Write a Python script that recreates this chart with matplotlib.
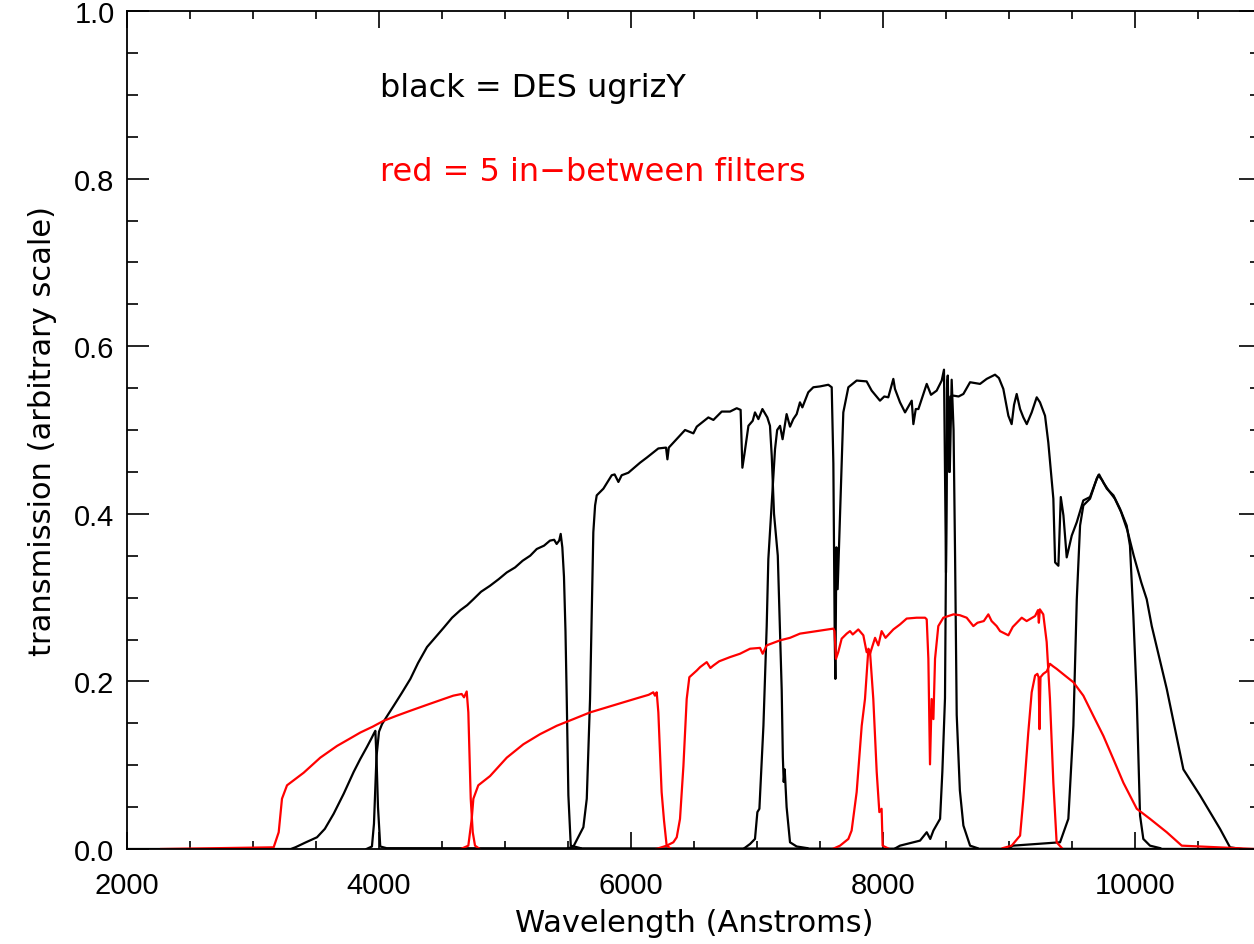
import matplotlib
matplotlib.use("Agg")
import matplotlib.pyplot as plt
from matplotlib.ticker import MultipleLocator, FormatStrFormatter

plt.rcParams['font.family'] = ['Liberation Sans', 'DejaVu Sans']

# DES ugrizY transmission curves (black)
u_wave = [2000, 3300, 3336, 3420, 3508, 3570, 3640, 3720, 3799, 3850, 3905, 3940, 3960, 3971,
          3980, 3992, 4010, 4060, 10950]
u_trans = [0, 0, 0.002, 0.008, 0.014, 0.024, 0.042, 0.066, 0.092, 0.107, 0.122, 0.132, 0.138, 0.141,
           0.11, 0.05, 0.003, 0.001, 0]

g_wave = [3900, 3944, 3960, 3980, 4000, 4024, 4070, 4117, 4180, 4249, 4310, 4381, 4450, 4513, 4580,
          4646, 4700, 4749, 4810, 4880, 4950, 5014, 5080, 5140, 5200, 5252, 5310, 5357, 5390, 5410,
          5430, 5442, 5455, 5468, 5480, 5490, 5503, 5522, 5600]
g_trans = [0, 0.003, 0.03, 0.11, 0.14, 0.149, 0.160, 0.171, 0.186, 0.203, 0.222, 0.241, 0.253, 0.264,
           0.276, 0.285, 0.291, 0.298, 0.307, 0.314, 0.322, 0.330, 0.336, 0.344, 0.350, 0.358, 0.362,
           0.368, 0.369, 0.364, 0.368, 0.376, 0.36, 0.325, 0.26, 0.179, 0.064, 0.004, 0.001]

r_wave = [5500, 5543, 5622, 5649, 5675, 5701, 5715, 5728, 5781, 5847, 5870, 5900, 5926, 5979, 6072,
          6125, 6217, 6278, 6289, 6300, 6429, 6495, 6522, 6614, 6654, 6720, 6786, 6839, 6870, 6884,
          6900, 6932, 6966, 6984, 7011, 7043, 7082, 7103, 7117, 7135, 7165, 7196, 7205, 7212, 7220,
          7235, 7262, 7315, 7400]
r_trans = [0.001, 0.003, 0.026, 0.06, 0.179, 0.378, 0.41, 0.422, 0.43, 0.446, 0.447, 0.438, 0.446,
           0.449, 0.461, 0.467, 0.478, 0.479, 0.465, 0.479, 0.5, 0.496, 0.504, 0.515, 0.512, 0.522,
           0.522, 0.526, 0.524, 0.455, 0.471, 0.505, 0.511, 0.521, 0.513, 0.525, 0.515, 0.505, 0.469,
           0.40, 0.35, 0.19, 0.11, 0.08, 0.095, 0.05, 0.008, 0.003, 0.001]

i_wave = [6900, 6945, 6984, 7003, 7019, 7051, 7077, 7090, 7143, 7160, 7183, 7203, 7235, 7262, 7288,
          7315, 7341, 7360, 7407, 7447, 7500, 7566, 7593, 7606, 7617, 7622, 7630, 7640, 7655, 7685,
          7725, 7791, 7870, 7910, 7976, 8010, 8042, 8082, 8095, 8135, 8175, 8228, 8241, 8260, 8281,
          8347, 8381, 8426, 8466, 8484, 8500, 8512, 8530, 8545, 8560, 8572, 8585, 8610, 8638, 8691,
          8750]
i_trans = [0.001, 0.006, 0.012, 0.044, 0.048, 0.147, 0.266, 0.346, 0.477, 0.50, 0.505, 0.489, 0.519,
           0.504, 0.513, 0.519, 0.533, 0.527, 0.545, 0.551, 0.552, 0.554, 0.551, 0.46, 0.25, 0.203,
           0.36, 0.31, 0.38, 0.521, 0.551, 0.559, 0.558, 0.547, 0.535, 0.54, 0.539, 0.561, 0.549,
           0.533, 0.521, 0.535, 0.507, 0.525, 0.525, 0.555, 0.542, 0.547, 0.559, 0.572, 0.33, 0.56,
           0.45, 0.56, 0.50, 0.35, 0.16, 0.07, 0.028, 0.004, 0.001]

z_wave = [8100, 8135, 8294, 8347, 8375, 8400, 8453, 8471, 8492, 8500, 8508, 8514, 8525, 8535, 8559,
          8600, 8638, 8691, 8770, 8823, 8889, 8920, 8955, 8995, 9021, 9040, 9061, 9088, 9114, 9141,
          9180, 9220, 9246, 9286, 9312, 9352, 9366, 9392, 9411, 9432, 9458, 9498, 9538, 9590, 9643,
          9680, 9709, 9740, 9776, 9829, 9881, 9934, 9960, 9987, 10014, 10040, 10066, 10119, 10200]
z_trans = [0.001, 0.004, 0.01, 0.02, 0.012, 0.022, 0.036, 0.092, 0.18, 0.35, 0.55, 0.565, 0.45, 0.54,
           0.541, 0.540, 0.543, 0.557, 0.555, 0.561, 0.566, 0.562, 0.549, 0.517, 0.507, 0.53, 0.543,
           0.525, 0.515, 0.507, 0.521, 0.539, 0.533, 0.517, 0.485, 0.418, 0.342, 0.338, 0.42, 0.398,
           0.348, 0.374, 0.39, 0.416, 0.42, 0.435, 0.446, 0.44, 0.43, 0.422, 0.406, 0.386, 0.362,
           0.278, 0.179, 0.04, 0.012, 0.004, 0.001]

Y_wave = [9000, 9032, 9405, 9471, 9511, 9538, 9564, 9590, 9643, 9670, 9696, 9715, 9750, 9790, 9840,
          9890, 9940, 9990, 10050, 10093, 10133, 10252, 10384, 10516, 10675, 10754, 10850]
Y_trans = [0.001, 0.004, 0.008, 0.036, 0.147, 0.298, 0.386, 0.41, 0.418, 0.43, 0.442, 0.447, 0.437,
           0.428, 0.418, 0.402, 0.380, 0.350, 0.318, 0.298, 0.266, 0.191, 0.095, 0.064, 0.024, 0.002,
           0.0]

# in-between filters (red)
f1_wave = [2270, 3164, 3204, 3230, 3270, 3402, 3534, 3667, 3760, 3852, 3950, 4037, 4140, 4249, 4380,
           4513, 4590, 4656, 4675, 4696, 4709, 4728, 4744, 4762, 4800]
f1_trans = [0, 0.002, 0.02, 0.06, 0.076, 0.091, 0.109, 0.123, 0.131, 0.139, 0.146, 0.153, 0.159,
            0.165, 0.172, 0.179, 0.183, 0.185, 0.181, 0.188, 0.163, 0.06, 0.02, 0.004, 0]

f2_wave = [4650, 4709, 4736, 4749, 4788, 4881, 5014, 5146, 5278, 5410, 5543, 5675, 5807, 5939, 6072,
           6140, 6177, 6190, 6204, 6217, 6243, 6262, 6283, 6320]
f2_trans = [0, 0.004, 0.036, 0.06, 0.076, 0.087, 0.109, 0.125, 0.137, 0.147, 0.155, 0.163, 0.169,
            0.175, 0.181, 0.184, 0.187, 0.183, 0.187, 0.163, 0.068, 0.034, 0.004, 0]

f3_wave = [6200, 6283, 6336, 6363, 6389, 6416, 6442, 6463, 6522, 6548, 6601, 6630, 6654, 6700, 6786,
           6865, 6945, 7024, 7045, 7077, 7183, 7262, 7341, 7474, 7606, 7615, 7627, 7645, 7672, 7712,
           7738, 7760, 7804, 7844, 7870, 7897, 7937, 7963, 7989, 8020, 8082, 8135, 8188, 8267, 8334,
           8347, 8360, 8373, 8386, 8400, 8413, 8439, 8479, 8559, 8610, 8664, 8717, 8750, 8800, 8836,
           8862, 8902, 8929, 8995, 9030, 9101, 9140, 9207, 9230, 9237, 9245, 9272, 9299, 9325, 9352,
           9378, 9420]
f3_trans = [0.0, 0.004, 0.008, 0.014, 0.036, 0.099, 0.179, 0.205, 0.213, 0.217, 0.223, 0.216, 0.219,
            0.224, 0.229, 0.233, 0.239, 0.24, 0.233, 0.243, 0.249, 0.252, 0.257, 0.26, 0.263, 0.26,
            0.227, 0.235, 0.251, 0.257, 0.26, 0.256, 0.262, 0.255, 0.235, 0.233, 0.252, 0.243, 0.26,
            0.252, 0.262, 0.268, 0.275, 0.276, 0.276, 0.274, 0.227, 0.101, 0.179, 0.155, 0.227, 0.266,
            0.276, 0.28, 0.279, 0.276, 0.266, 0.27, 0.272, 0.28, 0.272, 0.266, 0.26, 0.255, 0.265,
            0.276, 0.272, 0.278, 0.285, 0.27, 0.286, 0.28, 0.247, 0.179, 0.079, 0.008, 0.001]

f4_wave = [7600, 7659, 7725, 7751, 7791, 7831, 7857, 7884, 7897, 7923, 7950, 7971, 7989, 7997, 8050]
f4_trans = [0, 0.004, 0.012, 0.022, 0.068, 0.147, 0.179, 0.239, 0.235, 0.179, 0.092, 0.044, 0.048,
            0.004, 0]

f5_wave = [8950, 9021, 9088, 9114, 9153, 9180, 9207, 9225, 9235, 9242, 9250, 9272, 9300, 9325, 9350,
           9378, 9444, 9511, 9590, 9669, 9749, 9829, 9908, 10014, 10119, 10252, 10371, 10950]
f5_trans = [0.001, 0.004, 0.016, 0.06, 0.139, 0.187, 0.207, 0.209, 0.205, 0.143, 0.205, 0.209, 0.212,
            0.221, 0.218, 0.215, 0.207, 0.199, 0.183, 0.159, 0.135, 0.107, 0.079, 0.048, 0.036, 0.02,
            0.004, 0]

black_curves = [(u_wave, u_trans), (g_wave, g_trans), (r_wave, r_trans), (i_wave, i_trans),
                (z_wave, z_trans), (Y_wave, Y_trans)]
red_curves = [(f1_wave, f1_trans), (f2_wave, f2_trans), (f3_wave, f3_trans), (f4_wave, f4_trans),
              (f5_wave, f5_trans)]

fig = plt.figure(figsize=(12.54, 9.45), dpi=100)
ax = fig.add_axes([127 / 1254, 95 / 945, 1134 / 1254, 838 / 945])

for w, t in black_curves:
    ax.plot(w, t, color='black', lw=1.6)
for w, t in red_curves:
    ax.plot(w, t, color='#ff0000', lw=1.6)

ax.set_xlim(2000, 11000)
ax.set_ylim(0, 1.0)

ax.xaxis.set_major_locator(MultipleLocator(2000))
ax.xaxis.set_minor_locator(MultipleLocator(500))
ax.yaxis.set_major_locator(MultipleLocator(0.2))
ax.yaxis.set_minor_locator(MultipleLocator(0.05))
ax.yaxis.set_major_formatter(FormatStrFormatter('%.1f'))

ax.tick_params(which='both', direction='in', top=True, right=True, width=1.2, labelsize=21)
ax.tick_params(axis='x', which='major', length=12, pad=16)
ax.tick_params(axis='x', which='minor', length=6)
ax.tick_params(axis='y', which='major', length=16, pad=9)
ax.tick_params(axis='y', which='minor', length=8)
for s in ax.spines.values():
    s.set_linewidth(1.3)

label_font = ['DejaVu Sans']
ax.set_xlabel('Wavelength (Anstroms)', fontsize=22, family=label_font, labelpad=6)
ax.set_ylabel('transmission (arbitrary scale)', fontsize=22, family=label_font, labelpad=12)

ax.text(4010, 0.909, 'black = DES ugrizY', fontsize=23, family=label_font,
        color='black', va='center')
ax.text(4010, 0.809, 'red = 5 in\u2212between filters', fontsize=23, family=label_font,
        color='#ff0000', va='center')

fig.savefig('out.png', dpi=100)
